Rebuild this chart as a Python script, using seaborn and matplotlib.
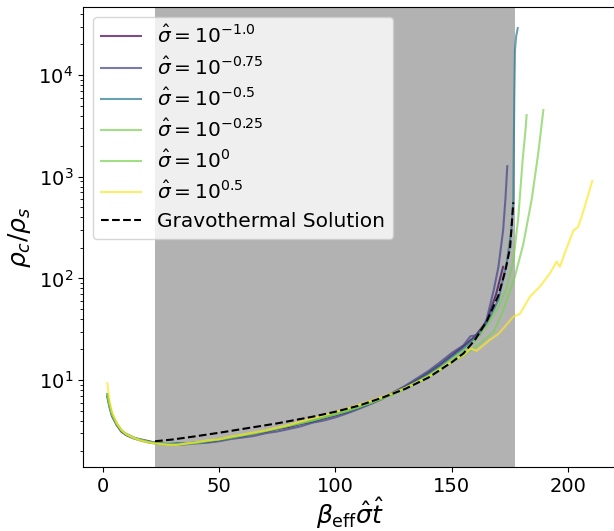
import numpy as np
import pandas as pd
import matplotlib
matplotlib.use("Agg")
import matplotlib.pyplot as plt
import seaborn as sns

# shared time grid for the early / middle part of every run
t_body = [2, 3, 4, 6, 8, 10, 13, 16, 20, 24, 28, 32, 36, 40, 45, 50, 55, 60,
          65, 70, 75, 80, 85, 90, 95, 100, 105, 110, 115, 120, 125, 130, 135,
          140, 145, 150]

# sigma = 10^-1.0
rho_m100 = [7.0, 5.5, 4.5, 3.65, 3.15, 2.9, 2.7, 2.62, 2.5, 2.38, 2.33, 2.36,
            2.35, 2.44, 2.47, 2.58, 2.7, 2.8, 2.97, 3.1, 3.3, 3.45, 3.7, 3.9,
            4.2, 4.5, 4.85, 5.35, 5.9, 6.6, 7.5, 8.6, 10.0, 11.8, 14.2, 17.5]
tail_t_m100 = [155, 160, 165, 169, 172]
tail_rho_m100 = [21.5, 27, 38, 70, 130]

# sigma = 10^-0.75
rho_m075 = [6.8, 5.3, 4.4, 3.6, 3.1, 2.88, 2.68, 2.55, 2.42, 2.36, 2.32, 2.3,
            2.34, 2.38, 2.42, 2.5, 2.63, 2.72, 2.82, 3.0, 3.12, 3.3, 3.5, 3.8,
            4.0, 4.3, 4.7, 5.2, 5.8, 6.5, 7.6, 8.8, 10.4, 12.3, 15.0, 18.5]
tail_t_m075 = [155, 158, 162, 165, 168, 170, 172, 173, 173.8]
tail_rho_m075 = [22, 27, 28, 40, 77, 130, 295, 600, 1270]

# sigma = 10^-0.5
rho_m050 = [7.3, 5.6, 4.6, 3.75, 3.22, 2.97, 2.75, 2.58, 2.47, 2.4, 2.35, 2.4,
            2.38, 2.45, 2.5, 2.62, 2.74, 2.86, 3.0, 3.17, 3.32, 3.55, 3.75, 4.0,
            4.28, 4.6, 4.95, 5.4, 5.95, 6.6, 7.4, 8.5, 9.8, 11.5, 13.8, 17.0]
tail_t_m050 = [155, 160, 165, 170, 173.5, 175.5, 176.4, 176.8, 177.1, 177.6, 178.3]
tail_rho_m050 = [20.5, 26, 36, 62, 140, 290, 590, 5600, 17600, 24000, 29000]

# sigma = 10^-0.25
rho_m025 = [7.1, 5.5, 4.55, 3.7, 3.2, 2.93, 2.72, 2.58, 2.45, 2.36, 2.3, 2.33,
            2.36, 2.4, 2.5, 2.6, 2.7, 2.84, 2.98, 3.15, 3.35, 3.55, 3.78, 4.0,
            4.3, 4.6, 4.95, 5.4, 5.95, 6.6, 7.35, 8.3, 9.6, 11.1, 13.2, 16.0]
tail_t_m025 = [155, 160, 165, 170, 173.5, 176.4, 178.5, 180.4, 181.7, 182.1]
tail_rho_m025 = [19.5, 24.5, 34, 52, 80, 150, 390, 1460, 3000, 4040]

# sigma = 10^0
rho_p000 = [7.2, 5.6, 4.6, 3.72, 3.2, 2.95, 2.7, 2.6, 2.45, 2.38, 2.34, 2.32,
            2.36, 2.42, 2.52, 2.6, 2.73, 2.86, 3.0, 3.16, 3.34, 3.55, 3.76, 4.0,
            4.3, 4.6, 4.98, 5.45, 5.95, 6.55, 7.25, 8.15, 9.3, 10.7, 12.5, 15.0]
tail_t_p000 = [155, 160, 164, 168, 172, 177, 180.7, 184.3, 187.1, 189.3]
tail_rho_p000 = [17.5, 21, 25, 30, 48, 103, 218, 600, 1700, 4520]

# sigma = 10^0.5
rho_p050 = [9.3, 6.2, 4.9, 3.8, 3.25, 2.95, 2.72, 2.55, 2.42, 2.36, 2.3, 2.3,
            2.38, 2.45, 2.55, 2.62, 2.78, 2.9, 3.05, 3.2, 3.4, 3.62, 3.9, 4.2,
            4.5, 4.85, 5.25, 5.7, 6.2, 6.8, 7.5, 8.4, 9.5, 10.8, 12.8, 15.3]
tail_t_p050 = [155, 158, 160.6, 163, 166, 170, 173, 176.4, 179.3, 183.5, 187.8,
               192.1, 195, 196.4, 199, 202.2, 204.3, 207, 210.3]
tail_rho_p050 = [17.6, 20.5, 19.4, 21.5, 24.5, 28.5, 34, 42, 45, 66, 83, 112,
                 146, 130, 190, 295, 323, 500, 910]

# gravothermal fluid solution
t_gravo = [22.5, 30, 40, 50, 60, 75, 90, 100, 110, 120, 130, 140, 150, 155,
           160, 165, 170, 173, 175, 176.4]
rho_gravo = [2.5, 2.6, 2.8, 3.03, 3.3, 3.75, 4.35, 4.88, 5.6, 6.7, 8.2, 10.6,
             15, 18.3, 25, 38, 68, 120, 200, 560]

labels = [r"$\hat{\sigma} = 10^{-1.0}$", r"$\hat{\sigma} = 10^{-0.75}$",
          r"$\hat{\sigma} = 10^{-0.5}$", r"$\hat{\sigma} = 10^{-0.25}$",
          r"$\hat{\sigma} = 10^{0}$", r"$\hat{\sigma} = 10^{0.5}$"]
cmap_pos = [0.0, 0.2, 0.4, 0.8, 0.8, 1.0]

runs = [(rho_m100, tail_t_m100, tail_rho_m100),
        (rho_m075, tail_t_m075, tail_rho_m075),
        (rho_m050, tail_t_m050, tail_rho_m050),
        (rho_m025, tail_t_m025, tail_rho_m025),
        (rho_p000, tail_t_p000, tail_rho_p000),
        (rho_p050, tail_t_p050, tail_rho_p050)]

fig = plt.figure(figsize=(6.14, 5.31), dpi=100)
ax = fig.add_axes([0.135, 0.1205, 0.869, 0.8657])

ax.axvspan(22.5, 177, color="gray", alpha=0.6, lw=0)

viridis = plt.get_cmap("viridis")
for (body, tt, tr), lab, c in zip(runs, labels, cmap_pos):
    df = pd.DataFrame({"t": t_body + tt, "rho": body + tr})
    sns.lineplot(data=df, x="t", y="rho", ax=ax, color=viridis(c), alpha=0.7,
                 lw=1.5, label=lab, sort=False, estimator=None)

sns.lineplot(x=t_gravo, y=rho_gravo, ax=ax, color="black", ls="--", lw=1.5,
             label="Gravothermal Solution", sort=False, estimator=None)

ax.set_yscale("log")
ax.set_xlim(-8.5, 220.7)
ax.set_ylim(1.395, 46400)
ax.set_xticks([0, 50, 100, 150, 200])
ax.tick_params(labelsize=14)
ax.set_xlabel(r"$\beta_{\rm eff}\hat{\sigma}\hat{t}$", fontsize=18, labelpad=0)
ax.set_ylabel(r"$\rho_c/\rho_s$", fontsize=18)
ax.legend(loc="upper left", fontsize=14.5, labelspacing=0.45)

fig.savefig("out.png", dpi=100)
